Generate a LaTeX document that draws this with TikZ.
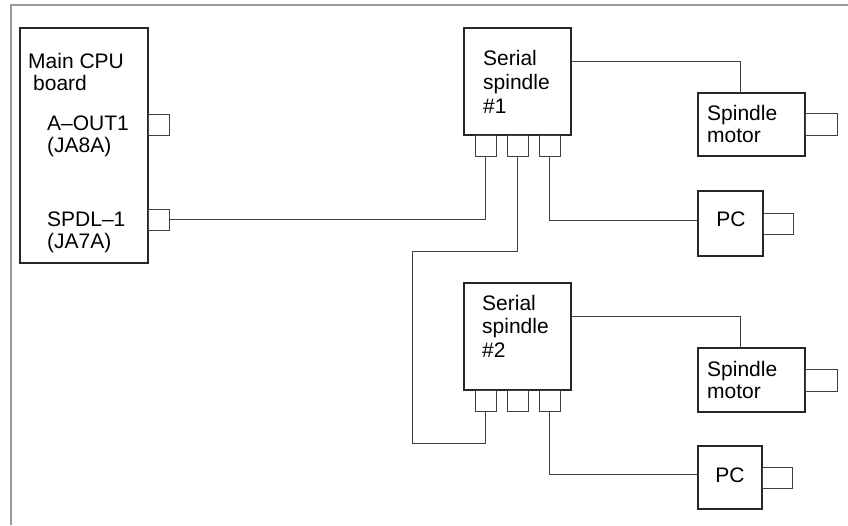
\documentclass[tikz,border=0pt]{standalone}
\usepackage{fontspec}
\setmainfont{Liberation Sans}
\usetikzlibrary{positioning,calc}

\begin{document}
\begin{tikzpicture}[x=1pt,y=-1pt,
  box/.style={draw=black!85,line width=1.1pt,inner sep=0pt,outer sep=0pt,anchor=north west},
  port/.style={draw=black!75,line width=0.7pt,inner sep=0pt,outer sep=0pt,minimum width=21pt,minimum height=21pt},
  wire/.style={draw=black!75,line width=0.8pt},
  lbl/.style={inner sep=0pt,anchor=base west,align=left,font=\fontsize{21}{22}\selectfont}]
\useasboundingbox (0,0) rectangle (848,525);
% frame
\draw[black!40,line width=2pt] (848,5) -- (11,5) -- (11,525);
% units
\node[box,minimum width=128pt,minimum height=235pt] (cpu) at (20,28) {};
\node[box,minimum width=107pt,minimum height=107pt] (sp1) at (464,28) {};
\node[box,minimum width=107pt,minimum height=107pt] (sp2) at (464,283) {};
\node[box,minimum width=107pt,minimum height=63pt] (mot1) at (698,93) {};
\node[box,minimum width=107pt,minimum height=64pt] (mot2) at (698,348) {};
\node[box,minimum width=65pt,minimum height=65pt] (pc1) at (698,191) {};
\node[box,minimum width=64pt,minimum height=63pt] (pc2) at (698,446) {};
% connectors
\node[port,anchor=west] (cpuA) at (148,124.5) {};
\node[port,anchor=west] (cpuB) at (148,219.5) {};
\foreach \s in {1,2}{
  \node[port,below=0pt of sp\s] (p\s m) {};
  \node[port,left=11pt of p\s m] (p\s l) {};
  \node[port,right=11pt of p\s m] (p\s r) {};
  \node[port,minimum width=32pt,minimum height=22pt,right=0pt of mot\s] (mot\s s) {};
  \node[port,minimum width=30pt,right=0pt of pc\s] (pc\s s) {};
}
% cables
\coordinate (loopA) at (412,251);
\coordinate (loopB) at (412,443);
\draw[wire] (cpuB.east) -| (p1l.south);
\draw[wire] (p1m.south) |- (loopA) -- (loopB) -| (p2l.south);
\foreach \s in {1,2}{
  \draw[wire] ($(sp\s.north east)!0.31!(sp\s.south east)$) -| ($(mot\s.north west)!0.4!(mot\s.north east)$);
  \draw[wire] (p\s r.south) |- ($(pc\s.north west)!0.45!(pc\s.south west)$);
}
% labels (placed at baseline of last line)
\node[lbl] (cpuT) at (28,90) {Main CPU\\\hspace*{5pt}board};
\node[lbl] (cpuTA) at (47,152) {A--OUT1\\(JA8A)};
\node[lbl] (cpuTB) at (47,248) {SPDL--1\\(JA7A)};
\node[lbl] (sp1T) at (483,113) {Serial\\[2pt]spindle\\[2pt]\#1};
\node[lbl] (sp2T) at (482,357) {Serial\\[1.5pt]spindle\\[1.5pt]\#2};
\node[lbl] (mot1T) at (707,142) {Spindle\\motor};
\node[lbl] (mot2T) at (707,398) {Spindle\\motor};
\node[lbl,anchor=base] (pc1T) at (731,226) {PC};
\node[lbl,anchor=base] (pc2T) at (730,482) {PC};
\end{tikzpicture}
\end{document}
